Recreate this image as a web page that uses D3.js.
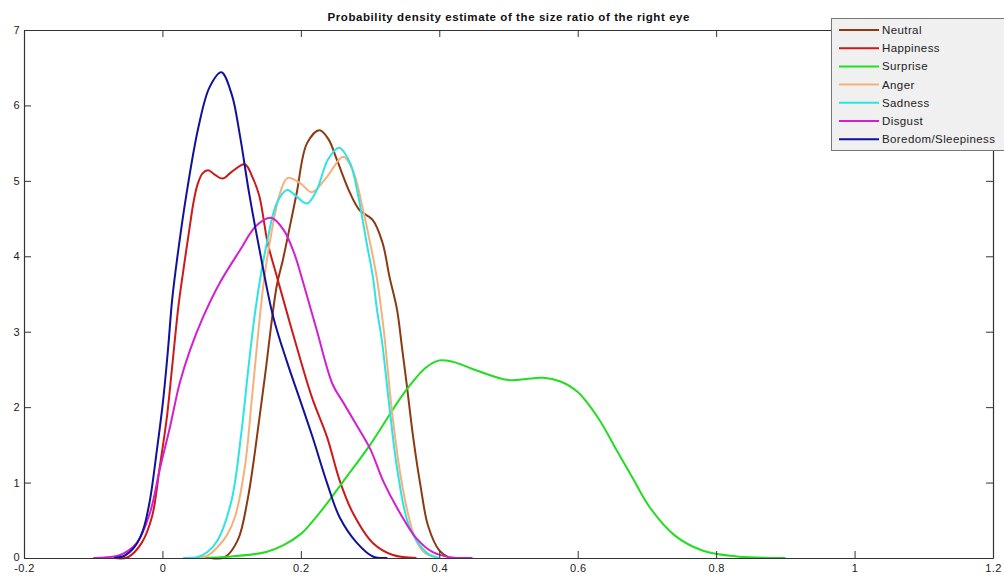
<!DOCTYPE html>
<html>
<head>
<meta charset="utf-8">
<script src="https://cdn.jsdelivr.net/npm/d3@7"></script>
<style>
  html, body { margin: 0; padding: 0; background: #ffffff; }
  svg { display: block; font-family: "Liberation Sans", Arial, sans-serif; }
</style>
</head>
<body>
<svg id="chart" width="1004" height="577"></svg>
<script>
// Kernel density estimates of the right-eye size ratio, one curve per expression
const seriesNames = ["Neutral", "Happiness", "Surprise", "Anger", "Sadness", "Disgust", "Boredom/Sleepiness"];
const seriesColors = ["#8b3a12", "#cc1a1a", "#22dd22", "#f5b07c", "#2de3e3", "#d21fd2", "#11119c"];

const neutralX = [0.07, 0.09, 0.109, 0.123, 0.134, 0.148, 0.165, 0.174, 0.184, 0.194, 0.209, 0.227, 0.24, 0.252, 0.271, 0.285, 0.304, 0.318, 0.328, 0.339, 0.346, 0.353, 0.362, 0.373, 0.384, 0.4, 0.415];
const neutralY = [0, 0.01, 0.24, 0.77, 1.43, 2.4, 3.6, 3.95, 4.39, 4.84, 5.5, 5.67, 5.55, 5.28, 4.84, 4.61, 4.48, 4.18, 3.73, 3.29, 2.8, 2.3, 1.62, 0.95, 0.42, 0.1, 0];

const happinessX = [-0.07, -0.05, -0.03, -0.015, -0.004, 0.0065, 0.014, 0.023, 0.03, 0.038, 0.045, 0.051, 0.058, 0.066, 0.076, 0.087, 0.1, 0.119, 0.13, 0.14, 0.152, 0.166, 0.18, 0.194, 0.216, 0.238, 0.256, 0.275, 0.304, 0.333, 0.367];
const happinessY = [0, 0.01, 0.2, 0.55, 1.2, 1.87, 2.53, 3.33, 3.8, 4.3, 4.72, 4.96, 5.1, 5.14, 5.08, 5.03, 5.12, 5.22, 5.05, 4.8, 4.18, 3.71, 3.25, 2.8, 2.13, 1.6, 1.03, 0.6, 0.2, 0.04, 0];

const surpriseX = [0.05, 0.1, 0.15, 0.175, 0.2, 0.22, 0.24, 0.26, 0.3, 0.35, 0.38, 0.4, 0.42, 0.45, 0.5, 0.55, 0.575, 0.6, 0.63, 0.655, 0.68, 0.705, 0.74, 0.78, 0.83, 0.9];
const surpriseY = [0, 0.02, 0.08, 0.17, 0.32, 0.52, 0.75, 1.0, 1.5, 2.2, 2.52, 2.62, 2.6, 2.5, 2.36, 2.39, 2.34, 2.2, 1.85, 1.45, 1.05, 0.66, 0.3, 0.1, 0.02, 0];

const angerX = [0.045, 0.065, 0.08, 0.093, 0.105, 0.119, 0.129, 0.138, 0.147, 0.155, 0.17, 0.181, 0.199, 0.216, 0.2375, 0.261, 0.275, 0.29, 0.3, 0.31, 0.32, 0.331, 0.343, 0.355, 0.367, 0.38, 0.4];
const angerY = [0, 0.03, 0.15, 0.3, 0.55, 1.2, 2.09, 2.95, 3.7, 4.18, 4.84, 5.04, 4.97, 4.85, 5.05, 5.32, 5.14, 4.61, 4.18, 3.7, 3.0, 2.0, 1.15, 0.58, 0.22, 0.06, 0];

const sadnessX = [0.03, 0.05, 0.065, 0.08, 0.1, 0.114, 0.124, 0.133, 0.143, 0.151, 0.165, 0.18, 0.194, 0.209, 0.223, 0.239, 0.255, 0.271, 0.282, 0.295, 0.304, 0.31, 0.317, 0.328, 0.34, 0.357, 0.382, 0.4];
const sadnessY = [0, 0.01, 0.08, 0.24, 0.77, 1.66, 2.5, 3.2, 3.8, 4.18, 4.7, 4.88, 4.79, 4.7, 4.88, 5.28, 5.44, 5.24, 4.84, 4.18, 3.73, 3.29, 2.89, 2.0, 1.13, 0.41, 0.07, 0];

const disgustX = [-0.1, -0.08, -0.061, -0.037, -0.018, -0.004, 0.011, 0.025, 0.04, 0.059, 0.083, 0.112, 0.135, 0.157, 0.175, 0.19, 0.205, 0.223, 0.246, 0.262, 0.28, 0.3, 0.32, 0.343, 0.367, 0.39, 0.415, 0.448];
const disgustY = [0, 0.01, 0.04, 0.2, 0.6, 1.17, 1.74, 2.32, 2.76, 3.2, 3.65, 4.08, 4.4, 4.51, 4.35, 4.05, 3.6, 3.02, 2.3, 2.05, 1.77, 1.45, 1.0, 0.6, 0.26, 0.08, 0.01, 0];

const boredomX = [-0.07, -0.055, -0.04, -0.028, -0.018, -0.008, 0.001, 0.008, 0.014, 0.021, 0.035, 0.052, 0.068, 0.085, 0.1, 0.112, 0.125, 0.14, 0.16, 0.18, 0.199, 0.217, 0.238, 0.256, 0.281, 0.304, 0.325];
const boredomY = [0, 0.03, 0.15, 0.37, 0.77, 1.43, 2.09, 2.76, 3.42, 3.95, 4.84, 5.71, 6.24, 6.44, 6.15, 5.6, 4.85, 4.1, 3.2, 2.6, 2.09, 1.6, 0.99, 0.54, 0.2, 0.02, 0];

const xTicks = [-0.2, 0, 0.2, 0.4, 0.6, 0.8, 1, 1.2];
const xTickLabels = ["-0.2", "0", "0.2", "0.4", "0.6", "0.8", "1", "1.2"];
const yTicks = [0, 1, 2, 3, 4, 5, 6, 7];
const yTickLabels = ["0", "1", "2", "3", "4", "5", "6", "7"];

const titleText = "Probability density estimate of the size ratio of the right eye";

const seriesX = [neutralX, happinessX, surpriseX, angerX, sadnessX, disgustX, boredomX];
const seriesY = [neutralY, happinessY, surpriseY, angerY, sadnessY, disgustY, boredomY];
const series = seriesNames.map((name, i) => ({
  name,
  color: seriesColors[i],
  points: seriesX[i].map((x, j) => ({ x, y: seriesY[i][j] }))
}));

const svg = d3.select("#chart");
const plot = { left: 24, right: 993, top: 30, bottom: 558 };
const axisColor = "#333333";

const x = d3.scaleLinear().domain([-0.2, 1.2]).range([plot.left, plot.right]);
const y = d3.scaleLinear().domain([0, 7]).range([plot.bottom, plot.top]).clamp(true);

// Title
svg.append("text")
  .attr("x", (plot.left + plot.right) / 2)
  .attr("y", 21)
  .attr("text-anchor", "middle")
  .attr("font-size", 11.5)
  .attr("font-weight", "bold")
  .attr("fill", "#111")
  .attr("textLength", 362)
  .attr("lengthAdjust", "spacing")
  .text(titleText);

// Curves
const line = d3.line()
  .x(d => x(d.x))
  .y(d => y(d.y))
  .curve(d3.curveCatmullRom.alpha(0.5));

svg.append("g")
  .selectAll("path")
  .data(series)
  .join("path")
  .attr("d", d => line(d.points))
  .attr("fill", "none")
  .attr("stroke", d => d.color)
  .attr("stroke-width", 2)
  .attr("stroke-linejoin", "round");

// Axes with inward ticks on all four sides
const tickLen = 7;
function styleAxis(g) {
  g.select(".domain").attr("stroke", axisColor).attr("stroke-width", 1.2);
  g.selectAll(".tick line").attr("stroke", axisColor).attr("stroke-width", 1);
  g.selectAll(".tick text").attr("fill", "#222").attr("font-size", 11)
    .attr("font-family", "Liberation Sans, Arial, sans-serif")
    .attr("letter-spacing", 0.4);
}

svg.append("g")
  .attr("transform", `translate(0,${plot.bottom})`)
  .call(d3.axisBottom(x).tickValues(xTicks).tickFormat((d, i) => xTickLabels[i])
    .tickSizeInner(-tickLen).tickSizeOuter(0).tickPadding(6))
  .call(styleAxis);

svg.append("g")
  .attr("transform", `translate(0,${plot.top})`)
  .call(d3.axisTop(x).tickValues(xTicks).tickFormat("")
    .tickSizeInner(-tickLen).tickSizeOuter(0))
  .call(styleAxis);

const yAxis = svg.append("g")
  .attr("transform", `translate(${plot.left},0)`)
  .call(d3.axisLeft(y).tickValues(yTicks).tickFormat((d, i) => yTickLabels[i])
    .tickSizeInner(-tickLen).tickSizeOuter(0).tickPadding(4))
  .call(styleAxis);
// keep the lowest y label clear of the x labels below it
yAxis.selectAll(".tick text").filter(d => d === 0).attr("dy", "0.2em");

svg.append("g")
  .attr("transform", `translate(${plot.right},0)`)
  .call(d3.axisRight(y).tickValues(yTicks).tickFormat("")
    .tickSizeInner(-tickLen).tickSizeOuter(0))
  .call(styleAxis);

// Legend
const legend = svg.append("g").attr("transform", "translate(831,18)");
legend.append("rect")
  .attr("x", 0.5).attr("y", 0.5)
  .attr("width", 175).attr("height", 132)
  .attr("fill", "#f0f0f0")
  .attr("stroke", "#777")
  .attr("stroke-width", 1);

const rowStep = 18.2;
const rows = legend.selectAll("g.row")
  .data(series)
  .join("g")
  .attr("class", "row")
  .attr("transform", (d, i) => `translate(0,${12 + i * rowStep})`);
rows.append("line")
  .attr("x1", 8).attr("x2", 48)
  .attr("y1", 0).attr("y2", 0)
  .attr("stroke", d => d.color)
  .attr("stroke-width", 2);
rows.append("text")
  .attr("x", 51).attr("y", 4)
  .attr("font-size", 11.5)
  .attr("letter-spacing", 0.4)
  .attr("fill", "#222")
  .text(d => d.name);
</script>
</body>
</html>
